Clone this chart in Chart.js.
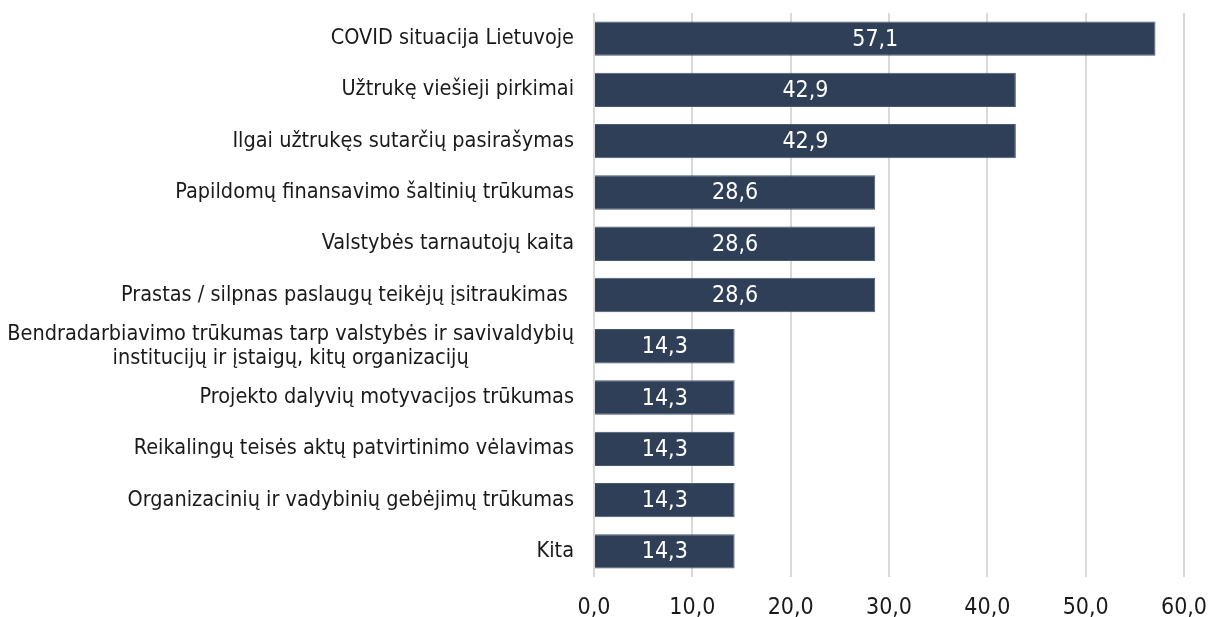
<!DOCTYPE html>
<html>
<head>
<meta charset="utf-8">
<script src="https://cdn.jsdelivr.net/npm/chart.js@4"></script>
<style>
  html, body { margin: 0; padding: 0; background: #ffffff; }
  #wrap { width: 1208px; height: 617px; position: relative; }
</style>
</head>
<body>
<div id="wrap"><canvas id="chart"></canvas></div>
<script>
// ── Data ──────────────────────────────────────────────────────────────────────
const CATEGORIES = [
  "COVID situacija Lietuvoje",
  "Užtrukę viešieji pirkimai",
  "Ilgai užtrukęs sutarčių pasirašymas",
  "Papildomų finansavimo šaltinių trūkumas",
  "Valstybės tarnautojų kaita",
  "Prastas / silpnas paslaugų teikėjų įsitraukimas ",
  ["Bendradarbiavimo trūkumas tarp valstybės ir savivaldybių", "institucijų ir įstaigų, kitų organizacijų"],
  "Projekto dalyvių motyvacijos trūkumas",
  "Reikalingų teisės aktų patvirtinimo vėlavimas",
  "Organizacinių ir vadybinių gebėjimų trūkumas",
  "Kita",
];
const VALUES = [57.1, 42.9, 42.9, 28.6, 28.6, 28.6, 14.3, 14.3, 14.3, 14.3, 14.3];
const X_TICKS = [0, 10, 20, 30, 40, 50, 60];

const FONT = "'DejaVu Sans Condensed', 'DejaVu Sans', sans-serif";
const BAR_COLOR = "#2E3F57";
const TEXT_COLOR = "#1a1a1a";

const fmt = v => v.toFixed(1).replace(".", ",");

// Value labels centred inside the bars
const barLabels = {
  id: "barLabels",
  afterDatasetsDraw(chart) {
    const { ctx } = chart;
    const meta = chart.getDatasetMeta(0);
    ctx.save();
    ctx.fillStyle = "#ffffff";
    ctx.font = `23px ${FONT}`;
    ctx.textAlign = "center";
    ctx.textBaseline = "middle";
    meta.data.forEach((bar, i) => {
      const cx = (bar.x + bar.base) / 2;
      ctx.fillText(fmt(VALUES[i]), cx, bar.y + 1);
    });
    ctx.restore();
  },
};

// Category labels: block right-aligned to the axis, lines centred inside it
const categoryLabels = {
  id: "categoryLabels",
  afterDraw(chart) {
    const { ctx } = chart;
    const yScale = chart.scales.y;
    const right = yScale.right - 20;
    const lineH = 24;
    ctx.save();
    ctx.fillStyle = TEXT_COLOR;
    ctx.font = `21.5px ${FONT}`;
    ctx.textAlign = "center";
    ctx.textBaseline = "middle";
    CATEGORIES.forEach((label, i) => {
      const lines = Array.isArray(label) ? label : [label];
      const w = Math.max(...lines.map(l => ctx.measureText(l).width));
      const cx = right - w / 2;
      const cy = yScale.getPixelForValue(i);
      lines.forEach((l, j) => {
        const y = cy + (j - (lines.length - 1) / 2) * lineH;
        const lw = ctx.measureText(l).width;
        // single lines keep right alignment (incl. trailing space)
        const x = lines.length === 1 ? right - lw / 2 : cx;
        ctx.fillText(l, x, y);
      });
    });
    ctx.restore();
  },
};

new Chart(document.getElementById("chart"), {
  type: "bar",
  data: {
    labels: CATEGORIES,
    datasets: [{
      data: VALUES,
      backgroundColor: BAR_COLOR,
      borderColor: "#4A5A70",
      borderWidth: 1,
      barPercentage: 0.67,
      categoryPercentage: 1,
    }],
  },
  options: {
    indexAxis: "y",
    responsive: true,
    maintainAspectRatio: false,
    animation: false,
    layout: { padding: { top: 13, right: 24, bottom: 0, left: 0 } },
    plugins: { legend: { display: false }, tooltip: { enabled: false } },
    scales: {
      x: {
        type: "linear",
        min: 0, max: 60,
        afterBuildTicks: s => { s.ticks = X_TICKS.map(v => ({ value: v })); },
        afterFit: s => { s.height = 40; s.paddingLeft = 0; s.paddingRight = 0; },
        grid: { color: "#D9D9D9", lineWidth: 2, drawTicks: false },
        border: { display: false },
        ticks: {
          color: TEXT_COLOR,
          padding: 17,
          font: { family: FONT, size: 23 },
          callback: v => fmt(v),
        },
      },
      y: {
        afterFit: s => { s.width = 594; s.paddingTop = 0; s.paddingBottom = 0; },
        grid: { display: false },
        border: { display: false },
        ticks: { display: false },
      },
    },
  },
  plugins: [barLabels, categoryLabels],
});
</script>
</body>
</html>
